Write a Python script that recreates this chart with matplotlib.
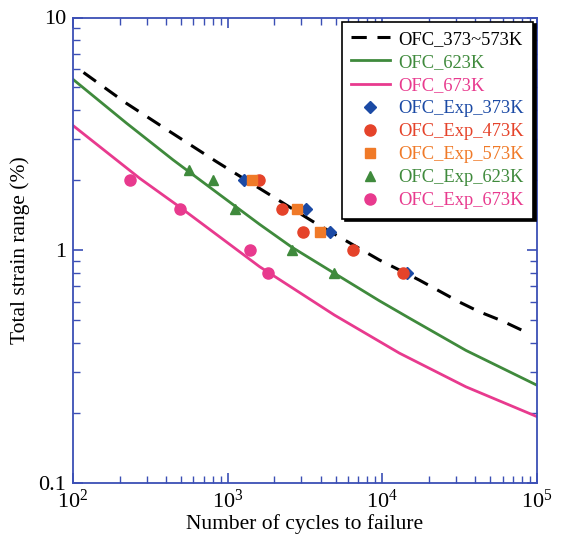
import matplotlib
matplotlib.use("Agg")
import matplotlib.pyplot as plt
from matplotlib.ticker import FixedLocator, FixedFormatter, LogLocator, NullFormatter

plt.rcParams['font.family'] = ['Liberation Serif', 'DejaVu Serif']
plt.rcParams['mathtext.fontset'] = 'stix'

# Fitted curves
n_373_573 = [117, 222, 423, 845, 3730, 9560, 13900, 17300, 31700, 42200, 58900, 87000]
e_373_573 = [5.8, 4.27, 3.23, 2.4, 1.30, 0.906, 0.80, 0.743, 0.596, 0.543, 0.497, 0.44]

n_623 = [100, 222, 444, 888, 1607, 2590, 4900, 9560, 14900, 34700, 100000]
e_623 = [5.42, 3.51, 2.44, 1.73, 1.29, 1.03, 0.794, 0.605, 0.51, 0.37, 0.262]

n_673 = [100, 271, 490, 1607, 4900, 12900, 34700, 100000]
e_673 = [3.43, 2.03, 1.53, 0.848, 0.525, 0.36, 0.258, 0.192]

# Experimental data
exp373_n = [1270, 3230, 4620, 14500]
exp373_e = [2.0, 1.5, 1.2, 0.8]
exp473_n = [1585, 2230, 3090, 6500, 13650]
exp473_e = [2.0, 1.5, 1.2, 1.0, 0.8]
exp573_n = [1430, 2790, 3930]
exp573_e = [2.0, 1.5, 1.2]
exp623_n = [560, 800, 1110, 2590, 4900]
exp623_e = [2.2, 2.0, 1.5, 1.0, 0.8]
exp673_n = [233, 490, 1390, 1810]
exp673_e = [2.0, 1.5, 1.0, 0.8]

c_blue = '#1b4aa5'
c_red = '#e5432a'
c_orange = '#f07a28'
c_green = '#3f8a3c'
c_pink = '#e83a8e'
c_axis = '#3b4fb5'

fig = plt.figure(figsize=(5.62, 5.41), dpi=100)
ax = fig.add_axes([73/562, 1-482.5/541, (537-73)/562, (482.5-17.5)/541])

ax.plot(n_373_573, e_373_573, color='black', lw=2.2, dashes=(5, 3.5), label='OFC_373~573K')
ax.plot(n_623, e_623, color=c_green, lw=2.0, label='OFC_623K')
ax.plot(n_673, e_673, color=c_pink, lw=2.0, label='OFC_673K')
ms = 8
ax.plot(exp373_n, exp373_e, 'D', color=c_blue, ms=6.5, ls='none', label='OFC_Exp_373K')
ax.plot(exp473_n, exp473_e, 'o', color=c_red, ms=ms, ls='none', label='OFC_Exp_473K')
ax.plot(exp573_n, exp573_e, 's', color=c_orange, ms=7.5, ls='none', label='OFC_Exp_573K')
ax.plot(exp623_n, exp623_e, '^', color=c_green, ms=7.5, ls='none', label='OFC_Exp_623K')
ax.plot(exp673_n, exp673_e, 'o', color=c_pink, ms=ms, ls='none', label='OFC_Exp_673K')

ax.set_xscale('log')
ax.set_yscale('log')
ax.set_xlim(1e2, 1e5)
ax.set_ylim(0.1, 10)

ax.yaxis.set_major_locator(FixedLocator([0.1, 1, 10]))
ax.yaxis.set_major_formatter(FixedFormatter(['0.1', '1', '10']))
ax.yaxis.set_minor_locator(LogLocator(base=10, subs=range(2, 10)))
ax.yaxis.set_minor_formatter(NullFormatter())
ax.xaxis.set_minor_locator(LogLocator(base=10, subs=range(2, 10)))
ax.xaxis.set_minor_formatter(NullFormatter())

for s in ax.spines.values():
    s.set_color(c_axis)
    s.set_linewidth(1.3)
ax.tick_params(which='both', direction='in', top=True, right=True, color=c_axis,
               labelcolor='black', labelsize=16)
ax.tick_params(which='major', length=7, width=1.2, pad=5)
ax.tick_params(which='minor', length=5, width=1.0)

ax.set_xlabel('Number of cycles to failure', fontsize=15.5, labelpad=1)
ax.set_ylabel('Total strain range (%)', fontsize=15.5, labelpad=6)

leg = ax.legend(loc='upper right', fontsize=13.3, frameon=True, fancybox=False,
                shadow={'color': 'black', 'alpha': 1}, edgecolor='black',
                borderaxespad=0.22, handlelength=2.1, handletextpad=0.45,
                labelspacing=0.33, borderpad=0.5)
leg.get_frame().set_linewidth(1.2)
label_colors = ['black', c_green, c_pink, c_blue, c_red, c_orange, c_green, c_pink]
for t, c in zip(leg.get_texts(), label_colors):
    t.set_color(c)

fig.savefig('out.png', dpi=100)
